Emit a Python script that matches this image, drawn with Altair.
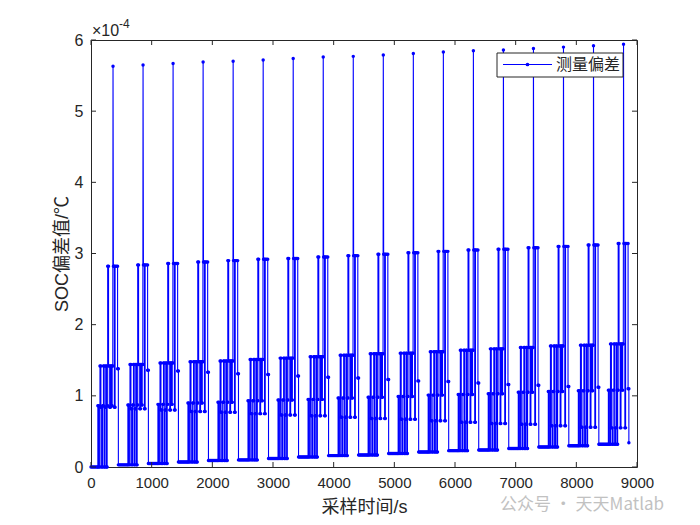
import altair as alt
import pandas as pd

# ---- values (y in units of 1e-4) ----
spike_t = [363, 858, 1353, 1848, 2343, 2838, 3333, 3828, 4323,
           4818, 5313, 5808, 6303, 6798, 7293, 7788, 8283, 8778]
peak = [5.63, 5.65, 5.67, 5.69, 5.70, 5.72, 5.74, 5.76, 5.77,
        5.79, 5.81, 5.83, 5.85, 5.86, 5.88, 5.90, 5.92, 5.94]
p2 = [2.82, 2.84, 2.86, 2.88, 2.90, 2.92, 2.93, 2.95, 2.97,
      2.99, 3.01, 3.03, 3.05, 3.06, 3.08, 3.10, 3.12, 3.14]
hi = [1.42, 1.44, 1.46, 1.48, 1.49, 1.51, 1.53, 1.55, 1.57,
      1.59, 1.60, 1.62, 1.64, 1.66, 1.68, 1.70, 1.71, 1.73]
mid2 = [0.86, 0.87, 0.88, 0.90, 0.91, 0.93, 0.94, 0.95, 0.97,
        0.98, 0.99, 1.01, 1.02, 1.03, 1.05, 1.06, 1.07, 1.08]
mid1 = [0.84, 0.82, 0.80, 0.78, 0.77, 0.75, 0.73, 0.72, 0.70,
        0.68, 0.67, 0.65, 0.63, 0.61, 0.60, 0.58, 0.56, 0.55]
endv = [1.38, 1.36, 1.35, 1.33, 1.31, 1.30, 1.28, 1.26, 1.25,
        1.23, 1.21, 1.20, 1.18, 1.16, 1.15, 1.13, 1.12, 1.10]
base = [0.00, 0.03, 0.05, 0.07, 0.09, 0.10, 0.12, 0.14, 0.16,
        0.17, 0.19, 0.21, 0.23, 0.24, 0.26, 0.28, 0.30, 0.32, 0.34]
start_base_t = [0, 20, 40, 60, 80, 100]

# shape of one cycle: offset (s) from the spike and which level
cycle_shape = [
    (-250, 'b'), (-250, 'l2'), (-234, 'l2'), (-234, 'b'),
    (-215, 'b'), (-215, 'h'), (-200, 'h'), (-200, 'l1'), (-188, 'l1'), (-188, 'b'),
    (-172, 'b'), (-172, 'l2'), (-158, 'l2'), (-158, 'h'), (-146, 'h'), (-146, 'b'),
    (-132, 'b'), (-132, 'l1'), (-120, 'l1'), (-120, 'h'), (-108, 'h'), (-108, 'b'),
    (-97, 'b'), (-97, 'l2'), (-88, 'l2'), (-88, 'p2'), (-74, 'p2'), (-74, 'h'),
    (-55, 'h'), (-55, 'l1'), (-42, 'l1'), (-42, 'h'), (-26, 'h'), (-26, 'l2'),
    (-14, 'l2'), (-14, 'h'), (-4, 'h'),
    (0, 'p'), (6, 'p2'), (22, 'p2'), (22, 'l1'), (34, 'l1'), (34, 'p2'),
    (55, 'p2'), (75, 'p2'), (75, 'e'), (88, 'e'), (88, 'bn'),
]
gap_t = [104, 120, 136, 152, 168, 184, 200, 216, 232]

x_ticks = [0, 1000, 2000, 3000, 4000, 5000, 6000, 7000, 8000, 9000]
y_ticks = [0, 1, 2, 3, 4, 5, 6]

rows = []
for t in start_base_t:
    rows.append((t, base[0]))
for k, ts in enumerate(spike_t):
    lv = {'b': base[k], 'bn': base[k + 1], 'l1': mid1[k], 'l2': mid2[k],
          'h': hi[k], 'p2': p2[k], 'p': peak[k], 'e': endv[k]}
    for off, key in cycle_shape:
        rows.append((ts + off, lv[key]))
    if k < len(spike_t) - 1:
        for g in gap_t:
            rows.append((ts + g, base[k + 1]))
df = pd.DataFrame(rows, columns=['t', 'v'])
df['i'] = range(len(df))

W, H = 546, 427
ink = '#262626'
blue = '#0000ff'
font = 'Liberation Sans, Arial, Noto Sans CJK SC'
cjk = 'Liberation Sans, Noto Sans CJK SC'

xs = alt.Scale(domain=[0, 9000], nice=False, zero=False)
ys = alt.Scale(domain=[0, 6], nice=False)

line = alt.Chart(df).mark_line(
    color=blue, strokeWidth=1.1,
    point=alt.OverlayMarkDef(filled=True, size=12, color=blue)
).encode(
    x=alt.X('t:Q', scale=xs, axis=alt.Axis(
        values=x_ticks, format='d', tickSize=0, domain=False, grid=False,
        labelFlush=False, labelOverlap=False,
        labelFontSize=15, labelColor=ink, labelFont=font, labelPadding=8,
        title='采样时间/s', titleFontSize=18, titleFontWeight='normal',
        titleColor=ink, titleFont=cjk, titlePadding=8)),
    y=alt.Y('v:Q', scale=ys, axis=alt.Axis(
        values=y_ticks, format='d', tickSize=0, domain=False, grid=False,
        labelFlush=False, labelOverlap=False,
        labelFontSize=16, labelColor=ink, labelFont=font, labelPadding=8,
        title='SOC偏差值/℃', titleFontSize=18, titleFontWeight='normal',
        titleColor=ink, titleFont=cjk, titlePadding=3)),
    order='i:Q'
)

xt = pd.DataFrame({'t': x_ticks})
yt = pd.DataFrame({'v': y_ticks})
tick_b = alt.Chart(xt).mark_rule(color=ink).encode(
    x=alt.X('t:Q', scale=xs), y=alt.value(H), y2=alt.value(H - 5))
tick_t = alt.Chart(xt).mark_rule(color=ink).encode(
    x=alt.X('t:Q', scale=xs), y=alt.value(0), y2=alt.value(5))
tick_l = alt.Chart(yt).mark_rule(color=ink).encode(
    y=alt.Y('v:Q', scale=ys), x=alt.value(0), x2=alt.value(5))
tick_r = alt.Chart(yt).mark_rule(color=ink).encode(
    y=alt.Y('v:Q', scale=ys), x=alt.value(W), x2=alt.value(W - 5))

one = pd.DataFrame({'a': [0]})
exp1 = alt.Chart(one).mark_text(text='×10', fontSize=16, color=ink, font=font,
                                align='left', baseline='alphabetic').encode(
    x=alt.value(1), y=alt.value(-4))
exp2 = alt.Chart(one).mark_text(text='-4', fontSize=12, color=ink, font=font,
                                align='left', baseline='alphabetic').encode(
    x=alt.value(28), y=alt.value(-12))

leg_box = alt.Chart(one).mark_rect(fill='white', stroke=ink, strokeWidth=1).encode(
    x=alt.value(406), x2=alt.value(532), y=alt.value(13), y2=alt.value(37))
leg_line = alt.Chart(one).mark_rule(color=blue, strokeWidth=1.1).encode(
    x=alt.value(412), x2=alt.value(461), y=alt.value(24.5))
leg_pt = alt.Chart(one).mark_point(filled=True, size=14, color=blue, opacity=1).encode(
    x=alt.value(436.5), y=alt.value(24.5))
leg_txt = alt.Chart(one).mark_text(text='测量偏差', fontSize=16, color=ink,
                                   font='Noto Sans CJK SC', align='left',
                                   baseline='middle').encode(
    x=alt.value(465), y=alt.value(25))

wm = alt.Chart(one).mark_text(text='公众号 · 天天Matlab', fontSize=17, color='#bbbbbb',
                              font='Noto Sans CJK SC', align='left',
                              baseline='middle', opacity=0.9).encode(
    x=alt.value(409), y=alt.value(465))

chart = alt.layer(
    line, tick_b, tick_t, tick_l, tick_r, exp1, exp2,
    leg_box, leg_line, leg_pt, leg_txt, wm
).properties(
    width=W, height=H,
    autosize=alt.AutoSizeParams(type='none'),
    padding={'left': 83, 'top': 32, 'right': 50, 'bottom': 50},
    background='white'
).configure_view(stroke=ink, strokeWidth=1)

chart.save("out.html", embed_options={"renderer": "svg", "actions": False})
